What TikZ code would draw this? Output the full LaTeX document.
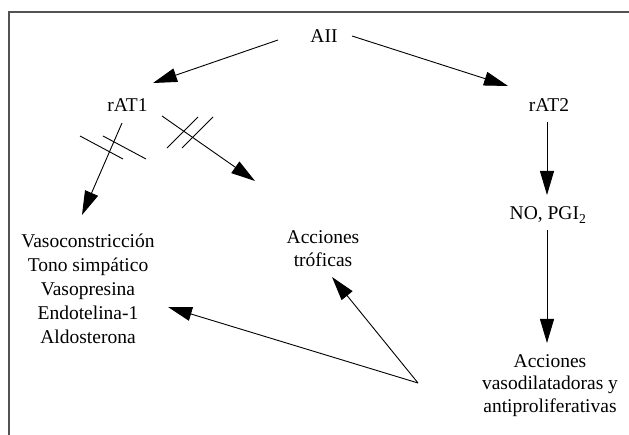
\documentclass[tikz,border=0pt]{standalone}
\usepackage{fontspec}
\setmainfont{Liberation Serif}
\usetikzlibrary{arrows.meta,calc}
\begin{document}
\begin{tikzpicture}[x=1pt,y=-1pt,
  lbl/.style={inner sep=0pt, anchor=base, font=\fontsize{19.5}{24}\selectfont},
  lbltight/.style={lbl, font=\fontsize{19.5}{22.5}\selectfont},
  arr/.style={line width=0.9pt, -{Triangle[length=24pt,width=14pt]}},
  hatch/.style={line width=0.9pt},
  frameline/.style={draw=black!68, line width=1.6pt}]
\useasboundingbox (0,0) rectangle (629,435);
\fill[white] (0,0) rectangle (629,435);

% open frame: left and top edges only
\draw[frameline] (9,436) -- (9,12) -- (630,12);

% labels
\node[lbl] (aii)  at (324,42.7) {AII};
\node[lbl] (rat1) at (127.5,112) {rAT1};
\node[lbl] (rat2) at (549,112) {rAT2};
\node[lbl] (no)   at (548,220) {NO, PGI\textsubscript{2}};
\node[lbl] (efectos) at (88,248)
  {\begin{tabular}[t]{@{}c@{}}Vasoconstricción\\ Tono simpático\\ Vasopresina\\ Endotelina-1\\ Aldosterona\end{tabular}};
\node[lbltight] (troficas) at (323,244)
  {\begin{tabular}[t]{@{}c@{}}Acciones\\ tróficas\end{tabular}};
\node[lbltight] (vasodil) at (550,367)
  {\begin{tabular}[t]{@{}c@{}}Acciones\\ vasodilatadoras y\\ antiproliferativas\end{tabular}};
\coordinate (hub) at (418,383);

% AII splits into both receptors
\draw[arr] ($(aii.base)+(-46,-2.7)$) -- ($(rat1.base)+(25.5,-29)$);
\draw[arr] ($(aii.base)+(28,-6.7)$) -- ($(rat2.base)+(-41,-26)$);

% blocked AT1 pathways
\draw[arr] ($(rat1.base)+(-5.5,11)$) -- ($(efectos.base)+(-6,-33)$);
\draw[arr] ($(rat1.base)+(34.5,4)$) -- ($(troficas.base)+(-68,-63)$);
\draw[hatch] (80,136) -- (123,159);
\draw[hatch] (103,136) -- (146,159);
\draw[hatch] (167,148) -- (198,117);
\draw[hatch] (182,148) -- (213,117);

% AT2 cascade
\draw[arr] ($(rat2.base)+(-2,10)$) -- ($(no.base)+(-1,-25)$);
\draw[arr] ($(no.base)+(-1,10)$) -- ($(vasodil.base)+(-3,-24)$);

% counter-regulation
\draw[arr] (hub) -- ($(efectos.base)+(80,59)$);
\draw[arr] (hub) -- ($(troficas.base)+(9,33)$);
\end{tikzpicture}
\end{document}
